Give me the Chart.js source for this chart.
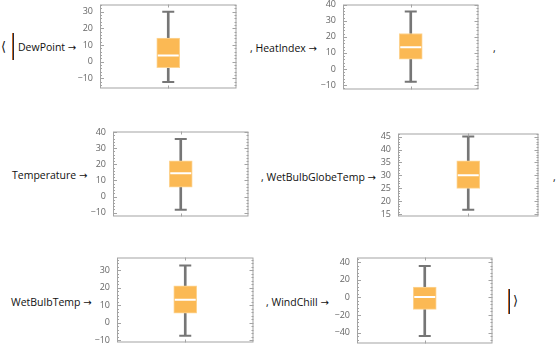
<!DOCTYPE html>
<html>
<head>
<meta charset="utf-8">
<script src="https://cdn.jsdelivr.net/npm/chart.js@4"></script>
<style>
  body { margin: 0; background: #fff; width: 557px; height: 350px; position: relative; overflow: hidden; font-family: "Open Sans", sans-serif; }
  .lbl { position: absolute; font-size: 10.5px; line-height: 14px; color: #111; white-space: nowrap; }
  .lbl .arr { font-family: "DejaVu Sans", sans-serif; font-size: 10px; }
  .brk { position: absolute; font-size: 13px; line-height: 14px; color: #111; font-family: "DejaVu Sans", sans-serif; }
  .rule { position: absolute; width: 1px; background: #c8661e; border-right: 1px solid #1d2b47; }
  .plot { position: absolute; }
</style>
</head>
<body>

<div class="brk" style="left:1px;top:40px">⟨</div>
<div class="rule" style="left:12px;top:33px;height:27px"></div>
<div class="lbl" style="left:18px;top:40px">DewPoint <span class="arr">→</span></div>
<div class="lbl" style="left:250px;top:41px">, HeatIndex <span class="arr">→</span></div>
<div class="lbl" style="left:493px;top:41px">,</div>

<div class="lbl" style="left:12px;top:168px">Temperature <span class="arr">→</span></div>
<div class="lbl" style="left:261px;top:170px">, WetBulbGlobeTemp <span class="arr">→</span></div>
<div class="lbl" style="left:553px;top:170px">,</div>

<div class="lbl" style="left:11px;top:295px">WetBulbTemp <span class="arr">→</span></div>
<div class="lbl" style="left:266px;top:295px">, WindChill <span class="arr">→</span></div>
<div class="rule" style="left:508px;top:289px;height:25px"></div>
<div class="brk" style="left:513px;top:294px">⟩</div>

<script>
// box-and-whisker summary per weather variable
const variables = ['DewPoint', 'HeatIndex', 'Temperature', 'WetBulbGlobeTemp', 'WetBulbTemp', 'WindChill'];
const whiskerLow  = [-12.2, -8, -8.2, 16.7, -7.3, -44];
const boxLow      = [-3.6, 6.1, 5.8, 25, 5.5, -13.7];
const medians     = [3.8, 13.5, 14.4, 30.1, 13.2, 0.4];
const boxHigh     = [14.2, 22.1, 22.2, 35.6, 21, 11.7];
const whiskerHigh = [30, 35.9, 35.7, 45, 32.7, 35.7];

// y axis ranges and tick steps
const axisMin  = [-16.1, -12.8, -12.4, 14.1, -11.2, -52.4];
const axisMax  = [34.4, 40.2, 40.4, 46.2, 37.2, 45.3];
const axisStep = [10, 10, 10, 5, 10, 20];

// frame placement on the page: left, top, width, height
const frames = [
  [100, 4, 148, 89],
  [343, 4, 147, 90],
  [113, 131, 147, 90],
  [398, 133, 152, 88],
  [117, 257, 148, 90],
  [357, 257, 147, 91]
];

const AXIS_W = 30;
const BOX_FILL = '#fbb954';
const BOX_EDGE = '#fdd594';
const WHISKER = '#767676';
const FRAME = '#a3a3a3';

// Mathematica-style frame with inward major/minor ticks
const frameTicks = {
  id: 'frameTicks',
  afterDatasetsDraw(chart) {
    const { ctx, chartArea: a, scales: { x, y } } = chart;
    ctx.save();
    ctx.strokeStyle = FRAME;
    ctx.lineWidth = 1;
    ctx.strokeRect(a.left + 0.5, a.top + 0.5, a.width - 1, a.height - 1);
    const vals = y.ticks.map(t => t.value);
    const step = vals[1] - vals[0];
    ctx.beginPath();
    for (let k = -5; k <= (vals.length + 1) * 5; k++) {
      const v = vals[0] + k * step / 5;
      const py = Math.round(y.getPixelForValue(v)) + 0.5;
      if (py < a.top + 1 || py > a.bottom - 1) continue;
      const len = k % 5 === 0 ? 4 : 2;
      ctx.moveTo(a.left, py); ctx.lineTo(a.left + len, py);
      ctx.moveTo(a.right, py); ctx.lineTo(a.right - len, py);
    }
    const px = Math.round(x.getPixelForValue(0)) + 0.5;
    ctx.moveTo(px, a.bottom); ctx.lineTo(px, a.bottom - 3);
    ctx.moveTo(px, a.top); ctx.lineTo(px, a.top + 3);
    ctx.stroke();
    ctx.restore();
  }
};

variables.forEach((name, i) => {
  const [fx, fy, fw, fh] = frames[i];
  const step = axisStep[i];
  const wrap = document.createElement('div');
  wrap.className = 'plot';
  const cv = document.createElement('canvas');
  const W = fw + AXIS_W + 1;
  cv.width = W;
  cv.height = fh + 20;
  wrap.appendChild(cv);
  document.body.appendChild(wrap);

  const chart = new Chart(cv, {
    type: 'bar',
    data: {
      labels: [name],
      datasets: [
        {
          type: 'line', data: [{ x: name, y: medians[i] }], showLine: false,
          pointStyle: 'line', pointRadius: 10.5, pointBorderWidth: 2,
          pointBorderColor: '#ffffff', order: 0
        },
        {
          type: 'line', data: [{ x: name, y: whiskerLow[i] }, { x: name, y: whiskerHigh[i] }], showLine: false,
          pointStyle: 'line', pointRadius: 6, pointBorderWidth: 2,
          pointBorderColor: WHISKER, order: 1
        },
        {
          data: [[boxLow[i], boxHigh[i]]], grouped: false, barThickness: 23,
          backgroundColor: BOX_FILL, borderColor: BOX_EDGE, borderWidth: 1, borderSkipped: false, order: 2
        },
        {
          data: [[whiskerLow[i], whiskerHigh[i]]], grouped: false, barThickness: 2,
          backgroundColor: WHISKER, borderWidth: 0, order: 3
        }
      ]
    },
    options: {
      responsive: false,
      animation: false,
      events: [],
      layout: { padding: { left: 0, right: 1, top: 0, bottom: 0 } },
      plugins: { legend: { display: false }, tooltip: { enabled: false } },
      scales: {
        x: { display: false },
        y: {
          min: axisMin[i], max: axisMax[i],
          // one tick per whole step inside the range
          afterBuildTicks: s => {
            const ticks = [];
            for (let v = Math.ceil(s.min / step) * step; v <= s.max; v += step) ticks.push({ value: v });
            s.ticks = ticks;
          },
          afterFit: s => { s.width = AXIS_W; },
          grid: { display: false, drawTicks: false },
          border: { display: false },
          ticks: {
            autoSkip: false, includeBounds: false,
            padding: 7, color: '#666666',
            font: { family: 'Open Sans', size: 9 },
            callback: v => String(v).replace('-', '\u2212')
          }
        }
      }
    },
    plugins: [frameTicks]
  });

  // fit the plot area onto the frame
  const a = chart.chartArea;
  const extra = a.top + (cv.height - a.bottom);
  chart.resize(W, fh + extra);
  wrap.style.left = (fx - chart.chartArea.left) + 'px';
  wrap.style.top = (fy - chart.chartArea.top) + 'px';
});
</script>
</body>
</html>
